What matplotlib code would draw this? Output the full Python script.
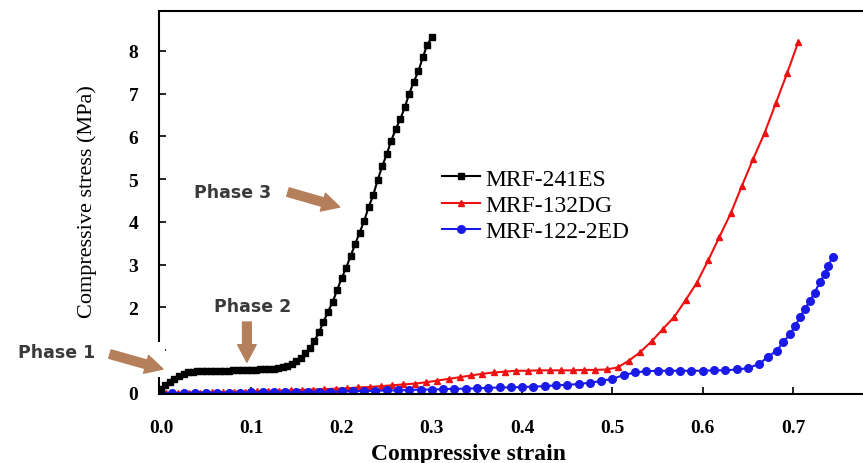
import matplotlib
matplotlib.use('Agg')
import matplotlib.pyplot as plt
from matplotlib.patches import Rectangle

# strain / stress curves
black_strain = [0.000, 0.005, 0.010, 0.015, 0.020, 0.025, 0.030, 0.035, 0.040, 0.045,
                0.050, 0.055, 0.060, 0.065, 0.070, 0.075, 0.080, 0.085, 0.090, 0.095,
                0.100, 0.105, 0.110, 0.115, 0.120, 0.125, 0.130, 0.135, 0.140, 0.145,
                0.150, 0.155, 0.160, 0.165, 0.170, 0.175, 0.180, 0.185, 0.190, 0.195,
                0.200, 0.205, 0.210, 0.215, 0.220, 0.225, 0.230, 0.235, 0.240, 0.245,
                0.250, 0.255, 0.260, 0.265, 0.270, 0.275, 0.280, 0.285, 0.290, 0.295,
                0.300]
black_stress = [0.10, 0.18, 0.26, 0.33, 0.40, 0.45, 0.48, 0.50, 0.51, 0.52,
                0.52, 0.52, 0.52, 0.52, 0.52, 0.52, 0.53, 0.53, 0.53, 0.53,
                0.54, 0.54, 0.55, 0.55, 0.56, 0.57, 0.58, 0.60, 0.63, 0.67,
                0.74, 0.83, 0.93, 1.05, 1.22, 1.42, 1.66, 1.90, 2.12, 2.40,
                2.68, 2.92, 3.20, 3.48, 3.75, 4.02, 4.35, 4.62, 4.98, 5.30,
                5.58, 5.90, 6.17, 6.40, 6.68, 7.00, 7.28, 7.52, 7.85, 8.15,
                8.32]

red_strain = [0.000, 0.006, 0.0185, 0.031, 0.0435, 0.056, 0.0685, 0.081, 0.0935, 0.106,
              0.1185, 0.131, 0.1435, 0.156, 0.1685, 0.181, 0.1935, 0.206, 0.2185, 0.231,
              0.2435, 0.256, 0.2685, 0.281, 0.2935, 0.306, 0.3185, 0.331, 0.3435, 0.356,
              0.3685, 0.381, 0.3935, 0.406, 0.4185, 0.431, 0.4435, 0.456, 0.4685, 0.481,
              0.4935, 0.506, 0.5185, 0.531, 0.5435, 0.556, 0.5685, 0.581, 0.5935, 0.606,
              0.6185, 0.631, 0.6435, 0.656, 0.6685, 0.681, 0.6935, 0.706]
red_stress = [0.00, 0.00, 0.00, 0.01, 0.01, 0.02, 0.02, 0.03, 0.03, 0.04,
              0.05, 0.05, 0.06, 0.07, 0.08, 0.09, 0.10, 0.11, 0.13, 0.14,
              0.16, 0.18, 0.20, 0.22, 0.25, 0.29, 0.33, 0.37, 0.41, 0.45,
              0.48, 0.50, 0.52, 0.52, 0.53, 0.53, 0.53, 0.53, 0.54, 0.54,
              0.55, 0.60, 0.76, 0.96, 1.21, 1.50, 1.78, 2.17, 2.58, 3.10,
              3.65, 4.20, 4.85, 5.48, 6.08, 6.78, 7.48, 8.22]

blue_strain = [0.000, 0.0125, 0.025, 0.0375, 0.050, 0.0625, 0.075, 0.0875, 0.100, 0.1125,
               0.125, 0.1375, 0.150, 0.1625, 0.175, 0.1875, 0.200, 0.2125, 0.225, 0.2375,
               0.250, 0.2625, 0.275, 0.2875, 0.300, 0.3125, 0.325, 0.3375, 0.350, 0.3625,
               0.375, 0.3875, 0.400, 0.4125, 0.425, 0.4375, 0.450, 0.4625, 0.475, 0.4875,
               0.500, 0.5125, 0.525, 0.5375, 0.550, 0.5625, 0.575, 0.5875, 0.600, 0.6125,
               0.625, 0.6375, 0.650, 0.6625, 0.672, 0.682, 0.689, 0.697, 0.702, 0.708,
               0.713, 0.719, 0.724, 0.730, 0.735, 0.739, 0.744]
blue_stress = [0.00, 0.00, 0.00, 0.01, 0.01, 0.01, 0.01, 0.01, 0.02, 0.02,
               0.02, 0.02, 0.02, 0.03, 0.03, 0.03, 0.04, 0.04, 0.05, 0.05,
               0.06, 0.06, 0.07, 0.08, 0.08, 0.09, 0.10, 0.10, 0.11, 0.12,
               0.13, 0.13, 0.14, 0.15, 0.16, 0.18, 0.19, 0.21, 0.24, 0.28,
               0.33, 0.42, 0.48, 0.51, 0.52, 0.52, 0.52, 0.52, 0.52, 0.53,
               0.53, 0.55, 0.58, 0.68, 0.84, 0.99, 1.19, 1.38, 1.57, 1.77,
               1.97, 2.16, 2.35, 2.60, 2.78, 2.98, 3.18]

x_ticks = [0.0, 0.1, 0.2, 0.3, 0.4, 0.5, 0.6, 0.7]
y_ticks = [0, 1, 2, 3, 4, 5, 6, 7, 8]
y_ticklabels = ['0', '', '2', '3', '4', '5', '6', '7', '8']

serif = 'Liberation Serif'
brown = '#b57f5c'

fig = plt.figure(figsize=(8.63, 4.64), dpi=100)
# the original is cropped: axes run past the right edge
ax = fig.add_axes([0.1842, 0.1481, 0.8393, 0.8265])

ax.plot(red_strain, red_stress, '-', color='#ee1111', lw=1.5, marker='^',
        markersize=5, label='MRF-132DG', zorder=2)
ax.plot(blue_strain, blue_stress, '-', color='#1a1ae6', lw=1.5, marker='o',
        markersize=5.5, label='MRF-122-2ED', zorder=2.1)
ax.plot(black_strain, black_stress, '-', color='black', lw=1.5, marker='s',
        markersize=5, label='MRF-241ES', zorder=2.2)

ax.set_xlim(-0.0022, 0.80)
ax.set_ylim(-0.03, 8.94)
ax.set_xticks(x_ticks)
ax.set_xticklabels([f'{t:.1f}' for t in x_ticks])
ax.set_yticks(y_ticks)
ax.set_yticklabels(y_ticklabels)
ax.tick_params(direction='in', length=5, width=1.2)
ax.tick_params(axis='x', pad=18)
ax.tick_params(axis='y', pad=15)
for lab in ax.get_xticklabels() + ax.get_yticklabels():
    lab.set_fontfamily(serif)
    lab.set_fontweight('bold')
    lab.set_fontsize(14)
for s in ax.spines.values():
    s.set_linewidth(1.5)
ax.spines['right'].set_visible(False)

ax.set_xlabel('Compressive strain', fontfamily=serif, fontweight='bold', fontsize=17)
ax.xaxis.set_label_coords(0.428, -0.127)
ax.set_ylabel('Compressive stress (MPa)', fontfamily=serif, fontsize=16)
ax.yaxis.set_label_coords(-0.085, 0.505)

handles, labels = ax.get_legend_handles_labels()
order = [2, 0, 1]
ax.legend([handles[i] for i in order], [labels[i] for i in order],
          loc='upper left', bbox_to_anchor=(0.3907, 0.590), frameon=False,
          prop={'family': serif, 'size': 17}, handlelength=1.6, handletextpad=0.25,
          labelspacing=0.2, borderpad=0, borderaxespad=0)

# white patch that hides part of the left spine behind the Phase 1 arrow
ax.add_patch(Rectangle((-0.065, 0.37), 0.069, 0.82, facecolor='white',
                       edgecolor='none', clip_on=False, zorder=2.6))

arrow = dict(arrowstyle='simple,head_width=0.95,head_length=0.9,tail_width=0.45',
             color=brown, shrinkA=0, shrinkB=0, mutation_scale=14)
ax.annotate('', xy=(0.198, 4.35), xytext=(0.1407, 4.70), arrowprops=arrow,
            annotation_clip=False, zorder=4)
ax.annotate('', xy=(0.0952, 0.72), xytext=(0.0952, 1.66), arrowprops=arrow,
            annotation_clip=False, zorder=4)
ax.annotate('', xy=(0.0022, 0.56), xytext=(-0.0565, 0.91), arrowprops=arrow,
            annotation_clip=False, zorder=4)

phase_kw = dict(fontfamily='DejaVu Sans', fontweight='bold', fontsize=12.5,
                color='#3a3a3a', ha='center', va='center')
ax.text(0.0798, 4.70, 'Phase 3', **phase_kw)
ax.text(0.1019, 2.04, 'Phase 2', **phase_kw, clip_on=False)
ax.text(-0.1152, 0.96, 'Phase 1', **phase_kw, clip_on=False)

# cut-off reference mark at the very top of the crop
fig.text(0.743, 1.0065, '[18]', ha='center', va='baseline', fontfamily=serif,
         fontweight='bold', fontsize=16)

fig.savefig('out.png', dpi=100, facecolor='white')
